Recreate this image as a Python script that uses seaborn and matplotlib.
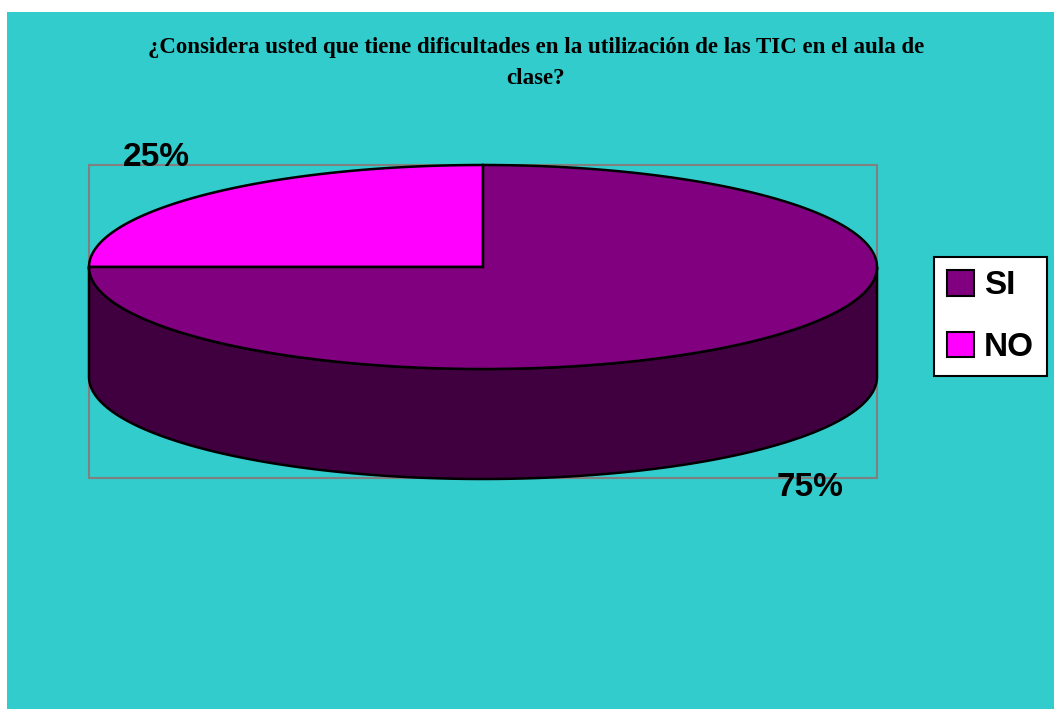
import numpy as np
import matplotlib.pyplot as plt
from matplotlib.patches import Polygon, Rectangle, Patch
import seaborn as sns

# data
categories = ['SI', 'NO']
values = [75, 25]
labels = ['75%', '25%']
colors = ['#800080', '#FF00FF']
side_color = '#400040'
title = '¿Considera usted que tiene dificultades en la utilización de las TIC en el aula de\nclase?'

sns.set_style("white")
plt.rcParams['font.family'] = ['Liberation Sans', 'DejaVu Sans']
plt.rcParams['text.color'] = 'black'

W, H = 1054, 709
fig = plt.figure(figsize=(W / 100, H / 100), dpi=100)
ax = fig.add_axes([0, 0, 1, 1])
ax.set_xlim(0, W)
ax.set_ylim(H, 0)
ax.axis('off')

# cyan chart area
ax.add_patch(Rectangle((7, 12), W - 7, H - 12, facecolor='#33CCCC', edgecolor='none', zorder=0))

# plot area box
ax.add_patch(Rectangle((89, 165), 788, 313, facecolor='none', edgecolor='#808080', lw=1.5, zorder=1))

# 3d pie geometry
cx, cy, rx, ry, depth = 483, 267, 394, 102, 110


def pt(theta, y0=cy):
    t = np.radians(theta)
    return np.column_stack([cx + rx * np.cos(t), y0 - ry * np.sin(t)])


# front side wall (visible half, 180..360 deg)
th = np.linspace(180, 360, 200)
side = np.vstack([pt(th), pt(th[::-1], cy + depth)])
ax.add_patch(Polygon(side, closed=True, facecolor=side_color, edgecolor='black', lw=1.8, zorder=2))

# top slices: NO goes from 90 deg counter-clockwise, SI takes the rest
order = [1, 0]
start = 90
total = sum(values)
for i in order:
    span = values[i] / total * 360
    th = np.linspace(start, start + span, 300)
    poly = np.vstack([[cx, cy], pt(th)])
    ax.add_patch(Polygon(poly, closed=True, facecolor=colors[i], edgecolor='black', lw=1.8, zorder=3))
    start += span

# percentage labels
ax.text(156, 158, labels[1], ha='center', va='center', fontsize=24, fontweight='bold', color='black', zorder=4)
ax.text(810, 488, labels[0], ha='center', va='center', fontsize=24, fontweight='bold', color='black', zorder=4)

# title
ax.text(536, 63, title, ha='center', va='center', fontsize=16.5, fontweight='bold', color='black',
        family=['Liberation Serif', 'DejaVu Serif'], linespacing=1.6, zorder=4)

# legend
handles = [Patch(facecolor=colors[i], edgecolor='black', lw=1.5, label=categories[i]) for i in range(2)]
leg = ax.legend(handles=handles, loc='center left', bbox_to_anchor=(934 / W, 1 - 316.5 / H),
                bbox_transform=fig.transFigure, frameon=True, fancybox=False, framealpha=1,
                prop={'size': 24, 'weight': 'bold'}, handlelength=0.8, handleheight=0.8,
                handletextpad=0.3, labelspacing=0.9, borderpad=0.4, borderaxespad=0)
leg.get_frame().set_edgecolor('black')
leg.get_frame().set_linewidth(1.5)
leg.get_frame().set_facecolor('white')
for t in leg.get_texts():
    t.set_color('black')

fig.savefig('out.png', dpi=100)
